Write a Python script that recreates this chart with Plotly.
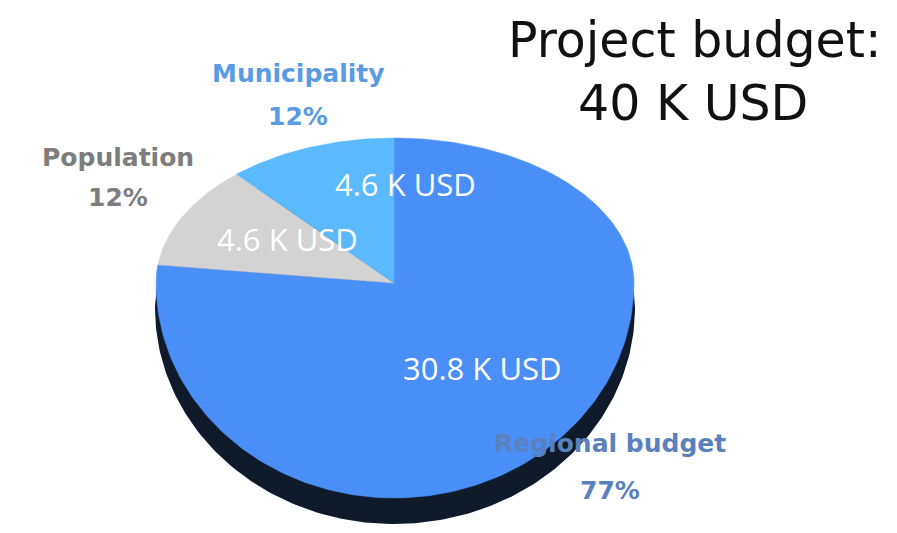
import numpy as np
import plotly.graph_objects as go

# ---- data ----
categories = ["Regional budget", "Population", "Municipality"]
values_k = [30.8, 4.6, 4.6]          # thousand USD
slice_colors = ["#4a8ff7", "#d3d3d3", "#5bb9fd"]
label_colors = ["#5a80bd", "#7d7d7d", "#5a9be6"]
total_k = 40

# ---- geometry of the tilted pie (pixel space) ----
W, H = 897, 533
OFF = 8  # page body margin
cx, cy = 394, 283
rx_l, rx_r = 238, 240
ry_t, ry_b = 145, 215
depth = 25


def pt(theta_deg):
    t = np.radians(theta_deg)
    c, s = np.cos(t), np.sin(t)
    rx = np.where(c > 0, rx_r, rx_l)
    ry = np.where(s > 0, ry_t, ry_b)
    return cx + rx * c, cy - ry * s


fig = go.Figure()

# shadow / depth
ang = np.linspace(0, 360, 361)
sx, sy = pt(ang)
fig.add_trace(go.Scatter(x=sx, y=sy + depth, fill="toself", mode="lines",
                         line=dict(color="#0f1a2b", width=2),
                         fillcolor="#0f1a2b", hoverinfo="skip", showlegend=False))

# slices, clockwise from 12 o'clock
vals = np.array(values_k, dtype=float)
fr = vals / vals.sum()
start = 90.0
for name, f, col, v in zip(categories, fr, slice_colors, values_k):
    end = start - f * 360
    a = np.linspace(start, end, max(int(abs(end - start)), 2) + 1)
    ex, ey = pt(a)
    xs = np.concatenate([[cx], ex, [cx]])
    ys = np.concatenate([[cy], ey, [cy]])
    fig.add_trace(go.Scatter(x=xs, y=ys, fill="toself", mode="lines",
                             line=dict(color=col, width=0.5), fillcolor=col,
                             name=name, hoverinfo="text",
                             text=f"{name}: {v} K USD", showlegend=False))
    start = end

# inside value labels
inside_pos = {"Regional budget": (482, 368), "Population": (287, 239), "Municipality": (405, 184)}
for name, v in zip(categories, values_k):
    x, y = inside_pos[name]
    fig.add_annotation(x=x, y=y, text=f"{v:g} K USD", showarrow=False,
                       font=dict(family="Open Sans", size=31, color="white"))

# outside category labels
outside_pos = {"Regional budget": (610, 443, 490), "Population": (118, 157, 197),
               "Municipality": (298, 73, 116)}
for name, f, lc in zip(categories, fr, label_colors):
    x, y1, y2 = outside_pos[name]
    fig.add_annotation(x=x, y=y1, text=f"<b>{name}</b>", showarrow=False,
                       font=dict(family="DejaVu Sans", size=25, color=lc))
    fig.add_annotation(x=x, y=y2, text=f"<b>{round(f * 100):.0f}%</b>", showarrow=False,
                       font=dict(family="DejaVu Sans", size=25, color=lc))

# title block
fig.add_annotation(x=694, y=40, text="Project budget:", showarrow=False,
                   font=dict(family="DejaVu Sans", size=49, color="#111111"))
fig.add_annotation(x=693, y=103, text=f"{total_k} K USD", showarrow=False,
                   font=dict(family="DejaVu Sans", size=49, color="#111111"))

fig.update_layout(width=W, height=H, margin=dict(l=0, r=0, t=0, b=0),
                  paper_bgcolor="white", plot_bgcolor="white",
                  xaxis=dict(range=[OFF, W + OFF], visible=False, fixedrange=True),
                  yaxis=dict(range=[H + OFF, OFF], visible=False, fixedrange=True))

fig.write_html("out.html")
